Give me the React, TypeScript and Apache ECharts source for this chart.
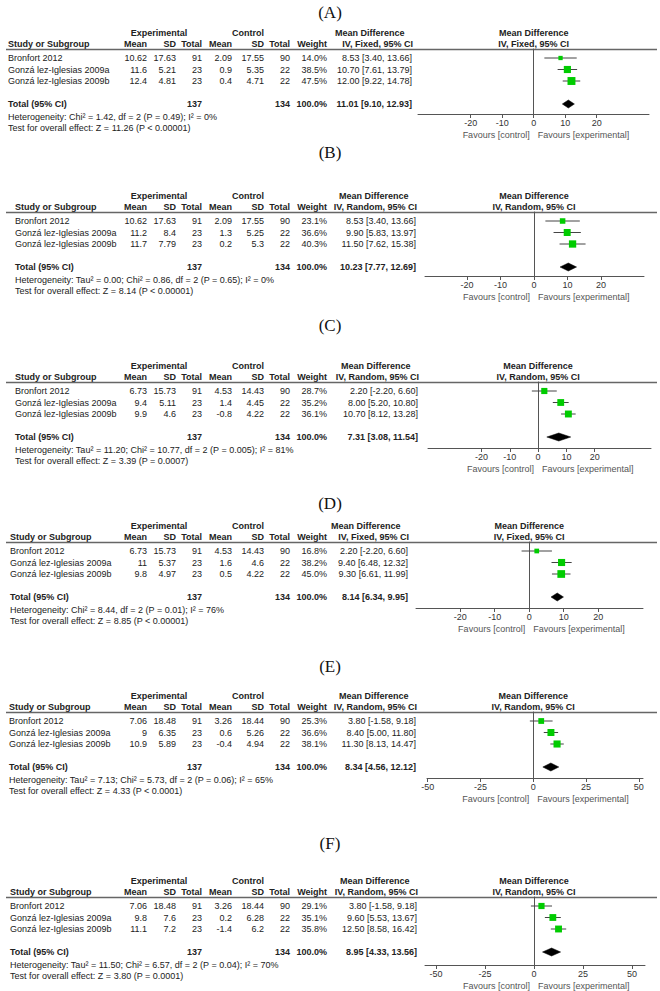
import React, { useEffect, useRef } from "react";
import * as echarts from "echarts";

// ---------------- data ----------------
const panelLabels = ["(A)", "(B)", "(C)", "(D)", "(E)", "(F)"];
const studies = ["Bronfort 2012", "Gonzá lez-Iglesias 2009a", "Gonzá lez-Iglesias 2009b"];
const methods = [
  "IV, Fixed, 95% CI",
  "IV, Random, 95% CI",
  "IV, Random, 95% CI",
  "IV, Fixed, 95% CI",
  "IV, Random, 95% CI",
  "IV, Random, 95% CI",
];
const expMean = [
  [10.62, 11.6, 12.4],
  [10.62, 11.2, 11.7],
  [6.73, 9.4, 9.9],
  [6.73, 11, 9.8],
  [7.06, 9, 10.9],
  [7.06, 9.8, 11.1],
];
const expSD = [
  [17.63, 5.21, 4.81],
  [17.63, 8.4, 7.79],
  [15.73, 5.11, 4.6],
  [15.73, 5.37, 4.97],
  [18.48, 6.35, 5.89],
  [18.48, 7.6, 7.2],
];
const expN = [91, 23, 23];
const ctlMean = [
  [2.09, 0.9, 0.4],
  [2.09, 1.3, 0.2],
  [4.53, 1.4, -0.8],
  [4.53, 1.6, 0.5],
  [3.26, 0.6, -0.4],
  [3.26, 0.2, -1.4],
];
const ctlSD = [
  [17.55, 5.35, 4.71],
  [17.55, 5.25, 5.3],
  [14.43, 4.45, 4.22],
  [14.43, 4.6, 4.22],
  [18.44, 5.26, 4.94],
  [18.44, 6.28, 6.2],
];
const ctlN = [90, 22, 22];
const weights = [
  [14.0, 38.5, 47.5],
  [23.1, 36.6, 40.3],
  [28.7, 35.2, 36.1],
  [16.8, 38.2, 45.0],
  [25.3, 36.6, 38.1],
  [29.1, 35.1, 35.8],
];
const md = [
  [8.53, 10.7, 12.0],
  [8.53, 9.9, 11.5],
  [2.2, 8.0, 10.7],
  [2.2, 9.4, 9.3],
  [3.8, 8.4, 11.3],
  [3.8, 9.6, 12.5],
];
const ciLow = [
  [3.4, 7.61, 9.22],
  [3.4, 5.83, 7.62],
  [-2.2, 5.2, 8.12],
  [-2.2, 6.48, 6.61],
  [-1.58, 5.0, 8.13],
  [-1.58, 5.53, 8.58],
];
const ciHigh = [
  [13.66, 13.79, 14.78],
  [13.66, 13.97, 15.38],
  [6.6, 10.8, 13.28],
  [6.6, 12.32, 11.99],
  [9.18, 11.8, 14.47],
  [9.18, 13.67, 16.42],
];
const totalExpN = 137;
const totalCtlN = 134;
const totalMD = [11.01, 10.23, 7.31, 8.14, 8.34, 8.95];
const totalLow = [9.1, 7.77, 3.08, 6.34, 4.56, 4.33];
const totalHigh = [12.93, 12.69, 11.54, 9.95, 12.12, 13.56];
const heterogeneity = [
  "Heterogeneity: Chi² = 1.42, df = 2 (P = 0.49); I² = 0%",
  "Heterogeneity: Tau² = 0.00; Chi² = 0.86, df = 2 (P = 0.65); I² = 0%",
  "Heterogeneity: Tau² = 11.20; Chi² = 10.77, df = 2 (P = 0.005); I² = 81%",
  "Heterogeneity: Chi² = 8.44, df = 2 (P = 0.01); I² = 76%",
  "Heterogeneity: Tau² = 7.13; Chi² = 5.73, df = 2 (P = 0.06); I² = 65%",
  "Heterogeneity: Tau² = 11.50; Chi² = 6.57, df = 2 (P = 0.04); I² = 70%",
];
const overallEffect = [
  "Test for overall effect: Z = 11.26 (P < 0.00001)",
  "Test for overall effect: Z = 8.14 (P < 0.00001)",
  "Test for overall effect: Z = 3.39 (P = 0.0007)",
  "Test for overall effect: Z = 8.85 (P < 0.00001)",
  "Test for overall effect: Z = 4.33 (P < 0.0001)",
  "Test for overall effect: Z = 3.80 (P = 0.0001)",
];
const tickValues = [
  [-20, -10, 0, 10, 20],
  [-20, -10, 0, 10, 20],
  [-20, -10, 0, 10, 20],
  [-20, -10, 0, 10, 20],
  [-50, -25, 0, 25, 50],
  [-50, -25, 0, 25, 50],
];

// ---------------- layout (positions only) ----------------
const layout = [
  { title: 12, line: 49, axisY: 114, left: 418, right: 649, xMin: -36.7, xMax: 36.6, studyX: 8, valR: 412 },
  { title: 152, line: 212, axisY: 276, left: 425, right: 644, xMin: -32.5, xMax: 32.8, studyX: 15, valR: 416 },
  { title: 325, line: 382, axisY: 448, left: 428, right: 651, xMin: -38.9, xMax: 39.9, studyX: 15, valR: 418 },
  { title: 503, line: 542, axisY: 608, left: 416, right: 643, xMin: -32.8, xMax: 33, studyX: 10, valR: 408 },
  { title: 666, line: 712, axisY: 778, left: 427, right: 643, xMin: -50.3, xMax: 52, studyX: 9, valR: 416 },
  { title: 843, line: 897, axisY: 965, left: 425, right: 645, xMin: -55.6, xMax: 56.6, studyX: 10, valR: 417 },
];
const ROW = 11.5;
const FIRST = 9;
const PMIN = 1 - FIRST / ROW;
const FONT = "'Liberation Sans', Arial, Helvetica, sans-serif";
const SERIF = "'Liberation Serif', 'Times New Roman', serif";
const TXT = "#222";
const col = { mean: 147, sd: 176, tot: 202, cMean: 232, cSd: 264, cTot: 290, w: 327, exp: 159, ctl: 248 };

function txt(x: number, y: number, text: string, align = "left", bold = false, extra: any = {}) {
  return {
    type: "text",
    x,
    y,
    silent: true,
    style: {
      text,
      fill: extra.fill || TXT,
      fontSize: extra.fontSize || 9,
      fontFamily: extra.fontFamily || FONT,
      fontWeight: bold ? "bold" : "normal",
      align,
      verticalAlign: "middle",
      textAlign: align,
      textVerticalAlign: "middle",
    },
  };
}

function fmt(v: number) {
  return String(v);
}

function buildOption() {
  const grids: any[] = [];
  const xAxes: any[] = [];
  const yAxes: any[] = [];
  const series: any[] = [];
  const graphics: any[] = [];

  layout.forEach((L, i) => {
    const pmax = PMIN + (L.axisY - L.line) / ROW;
    const rowY = (p: number) => L.line + (p - PMIN) * ROW;
    const zeroX = L.left + ((0 - L.xMin) / (L.xMax - L.xMin)) * (L.right - L.left);

    grids.push({
      left: L.left,
      top: L.line,
      width: L.right - L.left,
      height: L.axisY - L.line,
      containLabel: false,
      outerBoundsMode: "none",
    });
    xAxes.push({
      gridIndex: i,
      type: "value",
      min: L.xMin,
      max: L.xMax,
      position: "bottom",
      axisLine: { show: true, onZero: false, lineStyle: { color: "#555", width: 1 } },
      axisTick: { show: true, customValues: tickValues[i], length: 4, lineStyle: { color: "#555" } },
      axisLabel: {
        show: true,
        customValues: tickValues[i],
        fontSize: 9,
        fontFamily: FONT,
        color: "#333",
        margin: 4,
      },
      splitLine: { show: false },
    });
    yAxes.push({
      gridIndex: i,
      type: "value",
      inverse: true,
      min: PMIN,
      max: pmax,
      axisLine: { show: true, onZero: true, lineStyle: { color: "#555", width: 1 } },
      axisTick: { show: false },
      axisLabel: { show: false },
      splitLine: { show: false },
    });

    // CI lines
    series.push({
      type: "custom",
      xAxisIndex: i,
      yAxisIndex: i,
      z: 3,
      silent: true,
      data: studies.map((_, k) => [ciLow[i][k], ciHigh[i][k], k + 1]),
      renderItem: (params: any, api: any) => {
        const a = api.coord([api.value(0), api.value(2)]);
        const b = api.coord([api.value(1), api.value(2)]);
        return {
          type: "line",
          shape: { x1: a[0], y1: a[1], x2: b[0], y2: b[1] },
          style: { stroke: "#444", lineWidth: 1 },
        };
      },
    });
    // squares
    series.push({
      type: "scatter",
      xAxisIndex: i,
      yAxisIndex: i,
      z: 4,
      silent: true,
      symbol: "rect",
      itemStyle: { color: "#00cc00", opacity: 1 },
      data: studies.map((_, k) => ({
        value: [md[i][k], k + 1],
        symbolSize: Math.sqrt(weights[i][k]) * 1.15,
      })),
    });
    // diamond
    series.push({
      type: "custom",
      xAxisIndex: i,
      yAxisIndex: i,
      z: 4,
      silent: true,
      data: [[totalLow[i], totalMD[i], totalHigh[i], 5]],
      renderItem: (params: any, api: any) => {
        const y = api.value(3);
        const l = api.coord([api.value(0), y]);
        const m = api.coord([api.value(1), y]);
        const r = api.coord([api.value(2), y]);
        const h = 4;
        return {
          type: "polygon",
          shape: { points: [[l[0], l[1]], [m[0], m[1] - h], [r[0], r[1]], [m[0], m[1] + h]] },
          style: { fill: "#000", stroke: "#000", lineWidth: 0.5 },
        };
      },
    });

    // ---- texts ----
    graphics.push(txt(330, L.title, panelLabels[i], "center", false, { fontSize: 17, fontFamily: SERIF, fill: "#111" }));
    const h1 = L.line - 16;
    const h2 = L.line - 5;
    graphics.push(txt(col.exp, h1, "Experimental", "center", true));
    graphics.push(txt(col.ctl, h1, "Control", "center", true));
    graphics.push(txt(L.valR - 77, h1, "Mean Difference", "left", true));
    graphics.push(txt(zeroX, h1, "Mean Difference", "center", true));
    graphics.push(txt(L.studyX, h2, "Study or Subgroup", "left", true));
    graphics.push(txt(col.mean, h2, "Mean", "right", true));
    graphics.push(txt(col.sd, h2, "SD", "right", true));
    graphics.push(txt(col.tot, h2, "Total", "right", true));
    graphics.push(txt(col.cMean, h2, "Mean", "right", true));
    graphics.push(txt(col.cSd, h2, "SD", "right", true));
    graphics.push(txt(col.cTot, h2, "Total", "right", true));
    graphics.push(txt(col.w, h2, "Weight", "right", true));
    graphics.push(txt(L.valR + 1, h2, methods[i], "right", true));
    graphics.push(txt(zeroX, h2, methods[i], "center", true));
    graphics.push({
      type: "line",
      silent: true,
      shape: { x1: 6, y1: L.line + 0.5, x2: 657, y2: L.line + 0.5 },
      style: { stroke: "#666", lineWidth: 1.3 },
    });

    studies.forEach((s, k) => {
      const y = rowY(k + 1);
      graphics.push(txt(L.studyX, y, s, "left"));
      graphics.push(txt(col.mean, y, fmt(expMean[i][k]), "right"));
      graphics.push(txt(col.sd, y, fmt(expSD[i][k]), "right"));
      graphics.push(txt(col.tot, y, fmt(expN[k]), "right"));
      graphics.push(txt(col.cMean, y, fmt(ctlMean[i][k]), "right"));
      graphics.push(txt(col.cSd, y, fmt(ctlSD[i][k]), "right"));
      graphics.push(txt(col.cTot, y, fmt(ctlN[k]), "right"));
      graphics.push(txt(col.w, y, weights[i][k].toFixed(1) + "%", "right"));
      graphics.push(
        txt(L.valR, y, `${md[i][k].toFixed(2)} [${ciLow[i][k].toFixed(2)}, ${ciHigh[i][k].toFixed(2)}]`, "right")
      );
    });
    const ty = rowY(5);
    graphics.push(txt(L.studyX, ty, "Total (95% CI)", "left", true));
    graphics.push(txt(col.tot, ty, String(totalExpN), "right", true));
    graphics.push(txt(col.cTot, ty, String(totalCtlN), "right", true));
    graphics.push(txt(col.w, ty, "100.0%", "right", true));
    graphics.push(
      txt(L.valR, ty, `${totalMD[i].toFixed(2)} [${totalLow[i].toFixed(2)}, ${totalHigh[i].toFixed(2)}]`, "right", true)
    );
    graphics.push(txt(L.studyX, L.line + 68, heterogeneity[i], "left"));
    graphics.push(txt(L.studyX, L.line + 79, overallEffect[i], "left"));
    graphics.push(txt(zeroX - 4, L.axisY + 21, "Favours [control]", "right", false, { fill: "#555" }));
    graphics.push(txt(zeroX + 4, L.axisY + 21, "Favours [experimental]", "left", false, { fill: "#555" }));
  });

  return {
    animation: false,
    backgroundColor: "#ffffff",
    grid: grids,
    xAxis: xAxes,
    yAxis: yAxes,
    series,
    graphic: { elements: graphics },
  };
}

export default function App() {
  const ref = useRef<HTMLDivElement>(null);
  useEffect(() => {
    document.body.style.margin = "0";
    if (!ref.current) return;
    const chart = echarts.init(ref.current, undefined, { renderer: "svg" });
    chart.setOption(buildOption() as any);
    return () => chart.dispose();
  }, []);
  return <div ref={ref} style={{ width: 660, height: 991 }} />;
}
